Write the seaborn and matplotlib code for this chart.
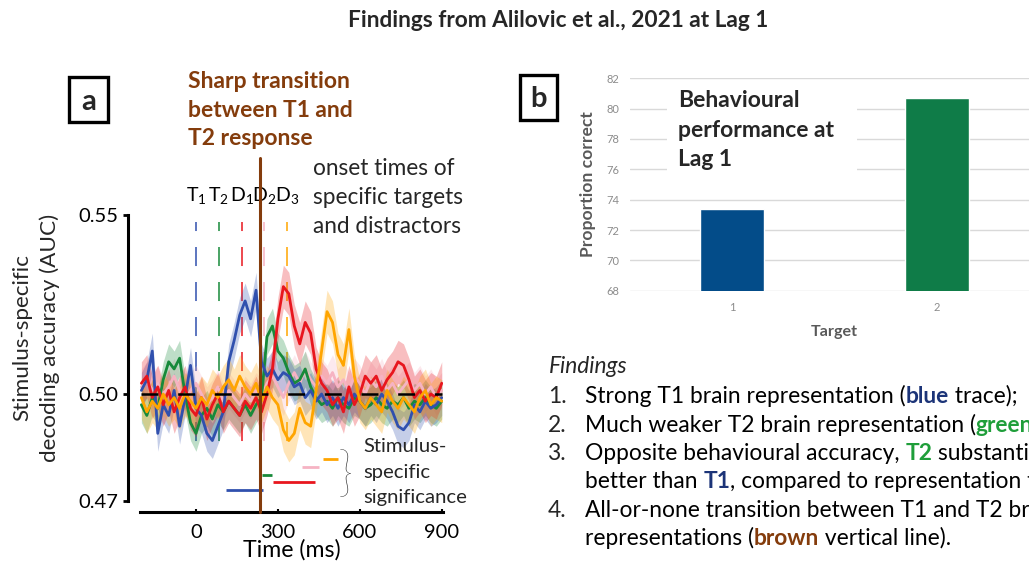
import matplotlib
matplotlib.use("Agg")
import numpy as np
import pandas as pd
import matplotlib.pyplot as plt
from matplotlib.patches import Rectangle
import seaborn as sns

# ---------------- data ----------------
time_ms = list(range(-200, 901, 20))

auc_t1 = [0.501, 0.504, 0.512, 0.489, 0.497, 0.494, 0.501, 0.491, 0.499, 0.508,
          0.496, 0.494, 0.489, 0.487, 0.491, 0.495, 0.509, 0.515, 0.522, 0.526,
          0.521, 0.529, 0.509, 0.505, 0.507, 0.504, 0.506, 0.505, 0.502, 0.503,
          0.499, 0.501, 0.498, 0.500, 0.497, 0.499, 0.496, 0.499, 0.497, 0.500,
          0.498, 0.496, 0.499, 0.497, 0.500, 0.498, 0.495, 0.491, 0.490, 0.492,
          0.497, 0.495, 0.498, 0.496, 0.497, 0.499]
auc_t2 = [0.497, 0.494, 0.499, 0.496, 0.504, 0.509, 0.507, 0.510, 0.500, 0.492,
          0.489, 0.494, 0.496, 0.493, 0.497, 0.495, 0.498, 0.496, 0.494, 0.497,
          0.494, 0.497, 0.499, 0.516, 0.519, 0.512, 0.510, 0.506, 0.503, 0.504,
          0.507, 0.502, 0.499, 0.497, 0.498, 0.496, 0.499, 0.497, 0.496, 0.499,
          0.498, 0.496, 0.497, 0.499, 0.497, 0.496, 0.498, 0.497, 0.499, 0.496,
          0.498, 0.497, 0.499, 0.497, 0.496, 0.498]
auc_d1 = [0.503, 0.505, 0.499, 0.502, 0.497, 0.501, 0.495, 0.499, 0.502, 0.496,
          0.494, 0.499, 0.493, 0.497, 0.500, 0.495, 0.498, 0.496, 0.494, 0.498,
          0.496, 0.499, 0.495, 0.500, 0.507, 0.521, 0.530, 0.528, 0.519, 0.514,
          0.520, 0.517, 0.507, 0.503, 0.501, 0.497, 0.499, 0.495, 0.502, 0.497,
          0.500, 0.505, 0.503, 0.505, 0.501, 0.504, 0.506, 0.509, 0.508, 0.504,
          0.499, 0.501, 0.498, 0.500, 0.499, 0.503]
auc_d2 = [0.502, 0.504, 0.501, 0.503, 0.500, 0.502, 0.505, 0.501, 0.498, 0.501,
          0.503, 0.500, 0.497, 0.499, 0.502, 0.498, 0.501, 0.499, 0.497, 0.500,
          0.498, 0.501, 0.499, 0.503, 0.505, 0.502, 0.499, 0.503, 0.506, 0.503,
          0.507, 0.504, 0.502, 0.505, 0.503, 0.506, 0.502, 0.504, 0.501, 0.505,
          0.503, 0.500, 0.504, 0.502, 0.505, 0.501, 0.503, 0.500, 0.502, 0.504,
          0.501, 0.503, 0.500, 0.502, 0.499, 0.501]
auc_d3 = [0.499, 0.495, 0.498, 0.496, 0.500, 0.497, 0.499, 0.496, 0.500, 0.498,
          0.496, 0.499, 0.497, 0.501, 0.499, 0.502, 0.504, 0.501, 0.505, 0.502,
          0.500, 0.503, 0.498, 0.502, 0.499, 0.497, 0.490, 0.487, 0.489, 0.496,
          0.492, 0.491, 0.501, 0.512, 0.523, 0.520, 0.511, 0.508, 0.518, 0.505,
          0.498, 0.496, 0.499, 0.497, 0.495, 0.501, 0.498, 0.496, 0.499, 0.497,
          0.495, 0.499, 0.501, 0.497, 0.499, 0.498]

stim_names = ["T1", "T2", "D1", "D2", "D3"]
band_halfwidth = [0.005, 0.005, 0.006, 0.005, 0.006]   # shaded error around each trace
onset_ms = [0, 83, 167, 250, 333]
transition_ms = 235

sig_start = [110, 242, 282, 388, 465]
sig_end = [245, 278, 436, 450, 520]
sig_level = [0.4732, 0.4774, 0.4754, 0.4796, 0.4818]

targets = ["1", "2"]
prop_correct = [73.4, 80.7]

# ---------------- style ----------------
sns.set_theme(style="ticks")
plt.rcParams["font.family"] = ["Lato", "DejaVu Sans"]
plt.rcParams["lines.scale_dashes"] = False
plt.rcParams["mathtext.fontset"] = "custom"
plt.rcParams["mathtext.rm"] = "Lato"

stim_colors = {"T1": "#3050AE", "T2": "#178A3A", "D1": "#E8161E",
               "D2": "#F6B3C3", "D3": "#FFA500"}
draw_order = ["D2", "T2", "T1", "D1", "D3"]
bar_colors = ["#034C89", "#0F7C48"]
BROWN = "#843C0C"
NAVY = "#1C3478"
GREEN_TXT = "#1F9E3A"

W, H = 1029, 566
fig = plt.figure(figsize=(W / 100, H / 100), dpi=100)
renderer = fig.canvas.get_renderer()


def fx(x):
    return x / W


def fy(y):
    return 1 - y / H


def text_w(s, size, weight="normal", style="normal"):
    t = fig.text(0, 0, s, fontsize=size, fontweight=weight, fontstyle=style)
    w = t.get_window_extent(renderer).width
    t.remove()
    return w


def fit(s, width, weight="normal", style="normal"):
    return 20 * width / text_w(s, 20, weight, style)


def put(x, y, s, size, **kw):
    kw.setdefault("va", "baseline")
    return fig.text(fx(x), fy(y), s, fontsize=size, **kw)


def put_runs(x, y, runs, size):
    # pieces of one line in different colours / weights
    for seg, color, weight in runs:
        put(x, y, seg, size, color=color, fontweight=weight)
        x += text_w(seg + "|", size, weight) - text_w("|", size, weight)


# ---------------- panel a ----------------
ax = fig.add_axes([140 / W, fy(501.4), 303.1 / W, 304.3 / H])
ax.set_facecolor("none")

wide = pd.DataFrame({"time": time_ms, "T1": auc_t1, "T2": auc_t2,
                     "D1": auc_d1, "D2": auc_d2, "D3": auc_d3})
long = wide.melt(id_vars="time", var_name="stim", value_name="auc")

for name, t0 in zip(stim_names, onset_ms):
    ax.plot([t0, t0], [0.548, 0.4843], color=stim_colors[name], lw=1.1,
            ls=(7.2, (13.7, 11.5)), zorder=1)

for name in draw_order:
    v = np.array(wide[name])
    hw = band_halfwidth[stim_names.index(name)]
    ax.fill_between(time_ms, v - hw, v + hw, color=stim_colors[name],
                    alpha=0.28, lw=0, zorder=2)

sns.lineplot(data=long, x="time", y="auc", hue="stim", hue_order=draw_order,
             palette=stim_colors, lw=2.0, legend=False, ax=ax, zorder=3)

ax.plot([-200, 900], [0.5, 0.5], color="black", lw=1.8,
        ls=(0, (12.2, 14.2)), zorder=5)

for name, a, b, lev in zip(stim_names, sig_start, sig_end, sig_level):
    ax.plot([a, b], [lev, lev], color=stim_colors[name], lw=2.0,
            solid_capstyle="butt", zorder=4)

ax.plot([transition_ms, transition_ms], [0.467, 0.566], color=BROWN, lw=2.2,
        clip_on=False, zorder=6)

ax.set_xlim(-205, 905)
ax.set_ylim(0.47, 0.555)
ax.set_xticks([0, 300, 600, 900])
ax.set_yticks([0.47, 0.50, 0.55])
ax.set_yticklabels(["0.47", "0.50", "0.55"])
sns.despine(ax=ax, offset={"left": 8.6, "bottom": 7.6})
ax.spines["left"].set_bounds(0.47, 0.55)
ax.spines["bottom"].set_bounds(-205, 905)
for s in ("left", "bottom"):
    ax.spines[s].set_linewidth(2.2)
    ax.spines[s].set_color("black")
ax.tick_params(axis="y", length=3.6, width=2.0, pad=3.4, labelsize=14.5,
               colors="black")
ax.tick_params(axis="x", direction="in", length=2.5, width=1.5, pad=8.5,
               labelsize=14.5, colors="black")

ax.set_xlabel("Time (ms)", fontsize=fit("Time (ms)", 98), color="black")
ax.set_ylabel("")
ax.xaxis.label.set_va("baseline")
ax.xaxis.set_label_coords(0.5, (501.4 - 557) / 304.3)

for name, t0 in zip(stim_names, onset_ms):
    ax.text(t0, 0.5536, r"$\mathrm{%s}_{%s}$" % (name[0], name[1]),
            fontsize=14, ha="center", va="baseline", color="black")

ysize = fit("decoding accuracy (AUC)", 247)
fig.text(fx(22), fy(338), "Stimulus-specific", rotation=90, fontsize=ysize,
         ha="center", va="center")
fig.text(fx(50), fy(338), "decoding accuracy (AUC)", rotation=90,
         fontsize=ysize, ha="center", va="center")

bsize = fit("Sharp transition", 162, "bold")
for txt, yb in zip(["Sharp transition", "between T1 and", "T2 response"],
                   [88, 117, 145]):
    put(188, yb, txt, bsize, color=BROWN, fontweight="bold")

osize = fit("specific targets", 150)
for txt, yb in zip(["onset times of", "specific targets", "and distractors"],
                   [175, 204, 233]):
    put(313, yb, txt, osize)

ssize = fit("significance", 104)
for txt, yb in zip(["Stimulus-", "specific", "significance"], [452, 478, 503]):
    put(363, yb, txt, ssize)
put(345, 476, "}", 38, ha="center", va="center", fontweight="light")

# ---------------- panel b ----------------
axb = fig.add_axes([629.5 / W, fy(290.7), 410 / W, 212.4 / H])
sns.barplot(x=targets, y=prop_correct, hue=targets, palette=bar_colors,
            saturation=1, width=0.31, legend=False, ax=axb, zorder=2)
axb.set_xlim(-0.5, 1.5)
axb.set_ylim(68, 82)
axb.set_yticks(range(68, 83, 2))
axb.yaxis.grid(True, color="#D9D9D9", lw=1.0)
axb.xaxis.grid(False)
axb.set_axisbelow(True)
for s in axb.spines.values():
    s.set_visible(False)
axb.tick_params(axis="y", length=0, pad=7.5, labelsize=8, colors="#8C8C8C")
axb.tick_params(axis="x", length=0, pad=8, labelsize=8, colors="#8C8C8C")
axb.set_xlabel("Target", fontsize=fit("Target", 47, "bold"),
               fontweight="bold", color="#595959")
axb.xaxis.label.set_va("baseline")
axb.xaxis.set_label_coords(0.5, (290.7 - 336) / 212.4)
axb.set_ylabel("Proportion correct", fontsize=fit("Proportion correct", 145, "bold"),
               fontweight="bold", color="#595959")
axb.yaxis.label.set_va("center")
axb.yaxis.set_label_coords((588 - 629.5) / 410, 0.5)

fig.add_artist(Rectangle((fx(667), fy(185)), 190 / W, 100 / H,
                         transform=fig.transFigure, facecolor="white",
                         edgecolor="none", zorder=3))
psize = fit("performance at", 156, "bold")
for txt, yb in zip(["Behavioural", "performance at", "Lag 1"], [107, 137, 166]):
    put(678, yb, txt, psize, fontweight="bold", zorder=4)

# ---------------- findings ----------------
fsize = fit("Strong T1 brain representation (blue trace);", 433)
put(549, 373, "Findings", fsize, fontstyle="italic")
K = "black"
N = "normal"
B = "bold"
lines = [
    (403, "1.", [("Strong T1 brain representation (", K, N), ("blue", NAVY, B),
                 (" trace);", K, N)]),
    (432, "2.", [("Much weaker T2 brain representation (", K, N),
                 ("green", GREEN_TXT, B), (" trace);", K, N)]),
    (460, "3.", [("Opposite behavioural accuracy, ", K, N), ("T2", GREEN_TXT, B),
                 (" substantially", K, N)]),
    (488, "", [("better than ", K, N), ("T1", NAVY, B),
               (", compared to representation trend;", K, N)]),
    (517, "4.", [("All-or-none transition between T1 and T2 brain", K, N)]),
    (545, "", [("representations (", K, N), ("brown", BROWN, B),
               (" vertical line).", K, N)]),
]
for yb, num, runs in lines:
    if num:
        put(548, yb, num, fsize)
    put_runs(585, yb, runs, fsize)

# ---------------- title and panel letters ----------------
put(558, 27, "Findings from Alilovic et al., 2021 at Lag 1",
    fit("Findings from Alilovic et al., 2021 at Lag 1", 420, "bold"),
    fontweight="bold", ha="center")

for letter, (x0, y0, x1, y1), yb in [("a", (69, 77, 108, 122), 110),
                                     ("b", (520, 75, 557, 120), 107)]:
    fig.add_artist(Rectangle((fx(x0), fy(y1)), (x1 - x0) / W, (y1 - y0) / H,
                             transform=fig.transFigure, facecolor="none",
                             edgecolor="black", lw=2.4))
    put((x0 + x1) / 2, yb, letter, 21, fontweight="bold", ha="center")

fig.savefig("out.png", dpi=100)
